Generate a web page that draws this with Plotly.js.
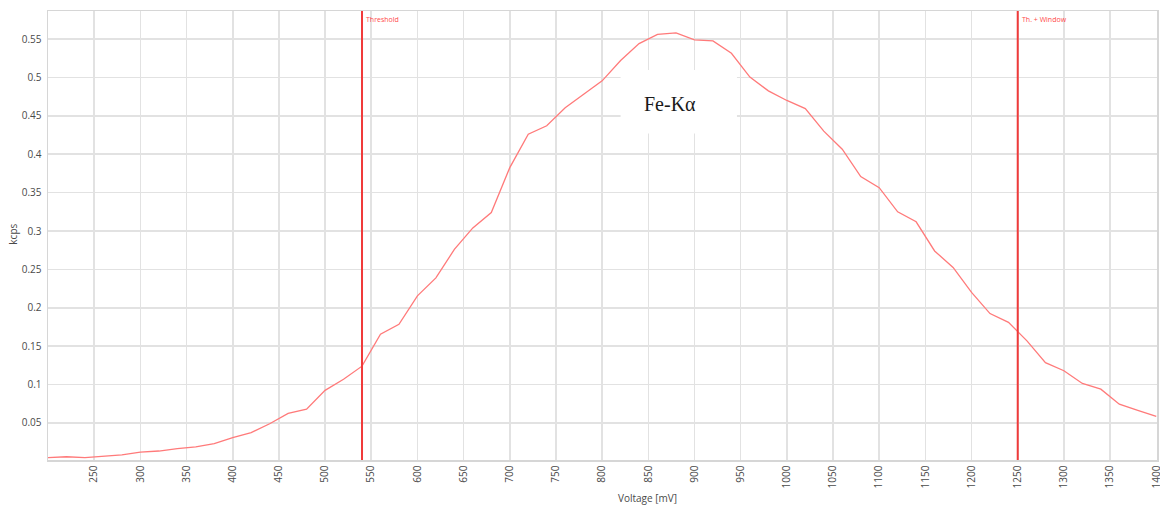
<!DOCTYPE html>
<html>
<head>
<meta charset="utf-8">
<script src="https://cdn.plot.ly/plotly-3.0.1.min.js"></script>
<style>
  html, body { margin: 0; padding: 0; background: #ffffff; }
  #chart { width: 1160px; height: 508px; }
</style>
</head>
<body>
<div id="chart"></div>
<script>
// Pulse-height scan: count rate versus discriminator voltage
const voltageMv = [
  200, 220, 240, 260, 280, 300, 320, 340, 360, 380,
  400, 420, 440, 460, 480, 500, 520, 540, 560, 580,
  600, 620, 640, 660, 680, 700, 720, 740, 760, 780,
  800, 820, 840, 860, 880, 900, 920, 940, 960, 980,
  1000, 1020, 1040, 1060, 1080, 1100, 1120, 1140, 1160, 1180,
  1200, 1220, 1240, 1260, 1280, 1300, 1320, 1340, 1360, 1380,
  1400
];
const rateKcps = [
  0.005, 0.006, 0.005, 0.007, 0.0085, 0.012, 0.0135, 0.0165, 0.019, 0.023,
  0.031, 0.0375, 0.049, 0.0625, 0.068, 0.0925, 0.107, 0.124, 0.1655, 0.1785,
  0.2155, 0.239, 0.276, 0.304, 0.324, 0.3825, 0.426, 0.437, 0.4605, 0.478,
  0.4955, 0.522, 0.544, 0.556, 0.558, 0.549, 0.5475, 0.5315, 0.5005, 0.4825,
  0.47, 0.4595, 0.43, 0.4065, 0.371, 0.3565, 0.325, 0.312, 0.274, 0.2525,
  0.22, 0.1925, 0.181, 0.157, 0.1285, 0.118, 0.1015, 0.094, 0.0745, 0.0665,
  0.0585
];

// Discriminator settings
const thresholdMv = 540;
const windowEdgeMv = 1250;
const markerLabels = ["Threshold", "Th. + Window"];

// Axis ticks
const xTickVals = [250, 300, 350, 400, 450, 500, 550, 600, 650, 700, 750, 800, 850,
                   900, 950, 1000, 1050, 1100, 1150, 1200, 1250, 1300, 1350, 1400];
const yTickVals = [0.05, 0.1, 0.15, 0.2, 0.25, 0.3, 0.35, 0.4, 0.45, 0.5, 0.55];
const yTickText = ["0.05", "0.1", "0.15", "0.2", "0.25", "0.3", "0.35", "0.4", "0.45", "0.5", "0.55"];

// Peak annotation
const peakLabel = "Fe-K\u03b1";
const peakLabelPos = { x: 873, y: 0.4655 };
const peakBox = { x0: 820, x1: 946, y0: 0.427, y1: 0.5096 };

const textGrey = "#4a4a4a";
const gridGrey = "#e2e2e2";
const markerRed = "#f03a3a";

const traces = [{
  type: "scatter",
  mode: "lines",
  x: voltageMv,
  y: rateKcps,
  line: { color: "#ff7a7a", width: 1.3 },
  hoverinfo: "x+y",
  showlegend: false
}];

const layout = {
  width: 1160,
  height: 508,
  margin: { l: 48, r: 3, t: 11, b: 48 },
  paper_bgcolor: "#ffffff",
  plot_bgcolor: "#ffffff",
  font: { family: "Open Sans, Arial, sans-serif", size: 10, color: textGrey },
  showlegend: false,
  xaxis: {
    range: [200, 1400.8],
    tickmode: "array",
    tickvals: xTickVals,
    ticktext: xTickVals.map(String),
    tickangle: -90,
    ticks: "",
    ticklabeloverflow: "allow",
    automargin: false,
    tickfont: { size: 10, color: textGrey },
    showgrid: true,
    gridcolor: gridGrey,
    gridwidth: 1.6,
    zeroline: false,
    showline: true,
    linecolor: "#d6d6d6",
    linewidth: 1.5,
    mirror: true
  },
  yaxis: {
    range: [0.0018, 0.5865],
    tickmode: "array",
    tickvals: yTickVals,
    ticktext: yTickText,
    ticks: "",
    ticklabelstandoff: 3,
    automargin: false,
    tickfont: { size: 10, color: textGrey },
    showgrid: true,
    gridcolor: gridGrey,
    gridwidth: 1.6,
    zeroline: false,
    showline: true,
    linecolor: "#d6d6d6",
    linewidth: 1.5,
    mirror: true
  },
  shapes: [
    {
      type: "rect", xref: "x", yref: "y", layer: "between",
      x0: peakBox.x0, x1: peakBox.x1, y0: peakBox.y0, y1: peakBox.y1,
      fillcolor: "#ffffff", line: { width: 0 }
    },
    {
      type: "line", xref: "x", yref: "paper",
      x0: thresholdMv, x1: thresholdMv, y0: 0, y1: 1,
      line: { color: markerRed, width: 2 }
    },
    {
      type: "line", xref: "x", yref: "paper",
      x0: windowEdgeMv, x1: windowEdgeMv, y0: 0, y1: 1,
      line: { color: markerRed, width: 2 }
    }
  ],
  annotations: [
    {
      text: markerLabels[0], xref: "x", yref: "paper",
      x: thresholdMv, y: 0.995, xanchor: "left", yanchor: "top",
      xshift: 2, showarrow: false,
      font: { family: "Open Sans, Arial, sans-serif", size: 7, color: "#ff4a4a" }
    },
    {
      text: markerLabels[1], xref: "x", yref: "paper",
      x: windowEdgeMv, y: 0.995, xanchor: "left", yanchor: "top",
      xshift: 2, showarrow: false,
      font: { family: "Open Sans, Arial, sans-serif", size: 7, color: "#ff4a4a" }
    },
    {
      text: peakLabel, xref: "x", yref: "y",
      x: peakLabelPos.x, y: peakLabelPos.y,
      xanchor: "center", yanchor: "middle", showarrow: false,
      font: { family: "Liberation Serif, DejaVu Serif, serif", size: 20, color: "#1a1a1a" }
    },
    {
      text: "Voltage [mV]", xref: "paper", yref: "paper",
      x: 0.541, y: -0.085, xanchor: "center", yanchor: "middle",
      showarrow: false, font: { size: 10, color: textGrey }
    },
    {
      text: "kcps", xref: "paper", yref: "paper",
      x: -0.0315, y: 0.502, xanchor: "center", yanchor: "middle",
      textangle: -90, showarrow: false, font: { size: 10, color: textGrey }
    }
  ]
};

Plotly.newPlot("chart", traces, layout, { staticPlot: true, displayModeBar: false });
</script>
</body>
</html>
